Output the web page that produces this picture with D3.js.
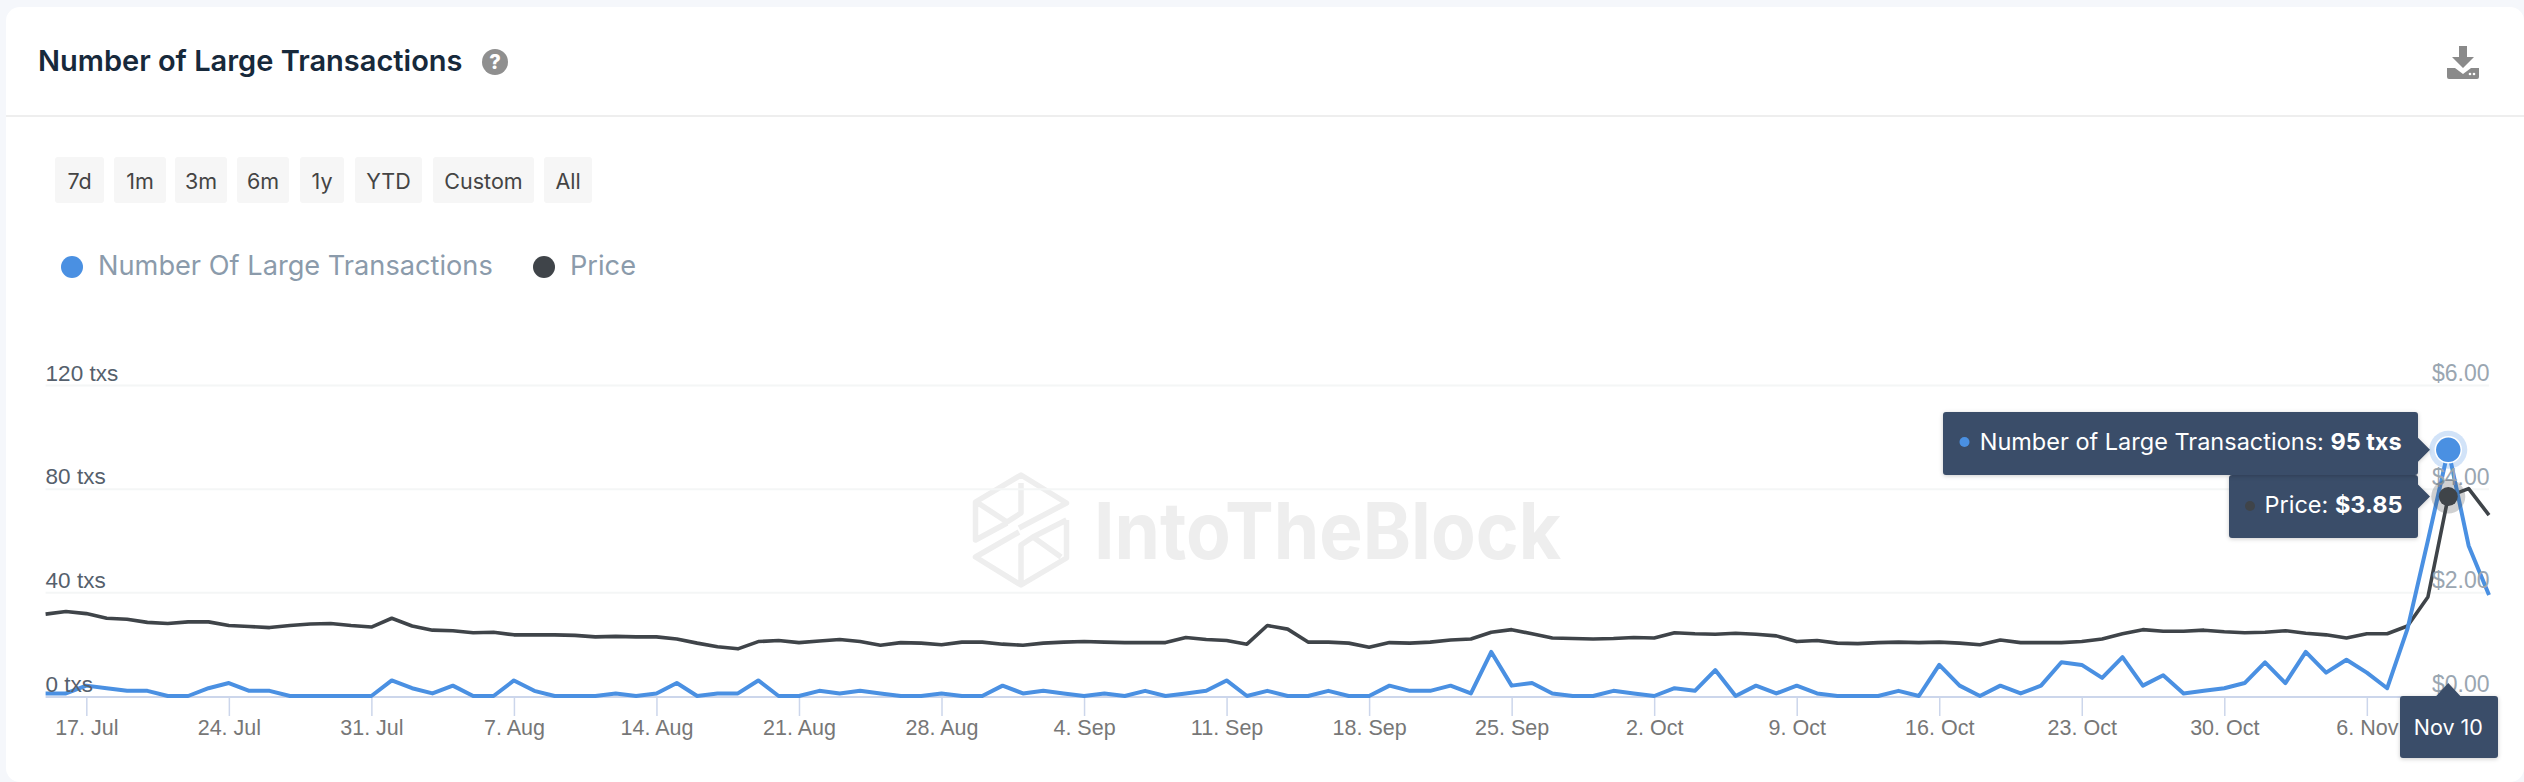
<!DOCTYPE html>
<html>
<head>
<meta charset="utf-8">
<script src="https://cdn.jsdelivr.net/npm/d3@7"></script>
<style>
  html, body { margin: 0; padding: 0; background: #f5f7fb; }
  svg { display: block; font-family: Inter, "Noto Sans", sans-serif; }
  .axis .domain { display: none; }
  .axis line { stroke: #f4f6f6; stroke-width: 2; }
  .x-axis .tick line { stroke: #ccd6eb; stroke-width: 1.5; }
  .x-axis text { fill: #777; font-size: 21.5px; }
  .tx-axis text { fill: #55606c; font-size: 22.5px; }
  .price-axis text { fill: #9aa6b1; font-size: 23px; }
</style>
</head>
<body>
<svg id="chart" width="2524" height="782"></svg>
<script>
'use strict';

const startDate = new Date(Date.UTC(2023, 6, 15));

const txCounts = [
  1, 1, 4, 3, 2, 2, 0, 0, 3, 5, 2, 2, 0, 0, 0, 0, 0, 6, 3, 1,
  4, 0, 0, 6, 2, 0, 0, 0, 1, 0, 1, 5, 0, 1, 1, 6, 0, 0, 2, 1,
  2, 1, 0, 0, 1, 0, 0, 4, 1, 2, 1, 0, 1, 0, 2, 0, 1, 2, 6, 0,
  2, 0, 0, 2, 0, 0, 4, 2, 2, 4, 1, 17, 4, 5, 1, 0, 0, 2, 1, 0,
  3, 2, 10, 0, 4, 1, 4, 1, 0, 0, 0, 2, 0, 12, 4, 0, 4, 1, 4, 13,
  12, 7, 15, 4, 8, 1, 2, 3, 5, 13, 5, 17, 9, 14, 9, 3, 26, 60, 95, 58,
  39
];

const prices = [
  1.58, 1.63, 1.59, 1.50, 1.48, 1.42, 1.40, 1.43, 1.43, 1.36, 1.34, 1.32, 1.36, 1.39, 1.40, 1.36, 1.33, 1.50, 1.35, 1.27,
  1.26, 1.22, 1.23, 1.18, 1.18, 1.18, 1.17, 1.14, 1.15, 1.14, 1.14, 1.10, 1.02, 0.95, 0.91, 1.05, 1.07, 1.03, 1.06, 1.09,
  1.05, 0.98, 1.03, 1.02, 0.99, 1.04, 1.04, 1.00, 0.98, 1.02, 1.04, 1.05, 1.04, 1.03, 1.03, 1.03, 1.13, 1.09, 1.07, 1.00,
  1.36, 1.29, 1.04, 1.04, 1.02, 0.94, 1.03, 1.02, 1.04, 1.08, 1.10, 1.23, 1.28, 1.20, 1.12, 1.11, 1.10, 1.11, 1.13, 1.12,
  1.22, 1.20, 1.19, 1.21, 1.19, 1.16, 1.05, 1.07, 1.02, 1.01, 1.03, 1.04, 1.03, 1.04, 1.02, 0.99, 1.08, 1.03, 1.03, 1.03,
  1.05, 1.10, 1.20, 1.28, 1.25, 1.25, 1.27, 1.24, 1.22, 1.23, 1.26, 1.21, 1.18, 1.12, 1.20, 1.20, 1.35, 1.91, 3.85, 4.00,
  3.49
];

const rangeButtons = ['7d', '1m', '3m', '6m', '1y', 'YTD', 'Custom', 'All'];
const buttonEdges = [[55, 104], [114, 166], [175, 227], [237, 289], [300, 344], [355, 422], [433, 534], [544, 592]];
const txTicks = [0, 40, 80, 120];
const priceTicks = [0, 2, 4, 6];
const hoverIndex = 118;

const svg = d3.select('#chart');
const dates = txCounts.map((d, i) => d3.utcDay.offset(startDate, i));

const x = d3.scaleUtc().domain([dates[0], dates[dates.length - 1]]).range([45.6, 2489]);
const yTx = d3.scaleLinear().domain([0, 120]).range([696, 385]);
const yPrice = d3.scaleLinear().domain([0, 6]).range([696, 385]);

// card + header
svg.append('rect').attr('x', 6).attr('y', 7).attr('width', 2518).attr('height', 775)
  .attr('rx', 14).attr('fill', '#fff');
svg.append('line').attr('x1', 6).attr('x2', 2524).attr('y1', 116).attr('y2', 116)
  .attr('stroke', '#eeeeee').attr('stroke-width', 2);
svg.append('text').attr('x', 38).attr('y', 71).attr('fill', '#17293b')
  .style('font-size', '29px').style('font-weight', 600).text('Number of Large Transactions');

let help = svg.append('g').attr('transform', 'translate(495,62)');
help.append('circle').attr('r', 13).attr('fill', '#8f8f8f');
help.append('text').attr('text-anchor', 'middle').attr('y', 7).attr('fill', '#fff')
  .style('font-size', '20px').style('font-weight', 800).text('?');

let dl = svg.append('g').attr('transform', 'translate(2463,62)').attr('fill', '#8a8a8a');
dl.append('path').attr('d', 'M-4,-16H4V-5H11L0,6L-11,-5H-4Z');
dl.append('path').attr('d', 'M-16,6V15Q-16,17 -14,17H14Q16,17 16,15V6H8L0,12L-8,6Z');
dl.append('circle').attr('cx', 7).attr('cy', 12).attr('r', 1.3).attr('fill', '#fff');
dl.append('circle').attr('cx', 11).attr('cy', 12).attr('r', 1.3).attr('fill', '#fff');

// range buttons
let buttons = svg.append('g').selectAll('g').data(rangeButtons).join('g');
buttons.append('rect')
  .attr('x', (d, i) => buttonEdges[i][0]).attr('y', 157)
  .attr('width', (d, i) => buttonEdges[i][1] - buttonEdges[i][0]).attr('height', 46)
  .attr('rx', 3).attr('fill', '#f6f6f6');
buttons.append('text')
  .attr('x', (d, i) => (buttonEdges[i][0] + buttonEdges[i][1]) / 2).attr('y', 189)
  .attr('text-anchor', 'middle').attr('fill', '#444')
  .style('font-size', '21.5px').text(d => d);

// legend
svg.append('circle').attr('cx', 72).attr('cy', 267).attr('r', 11).attr('fill', '#4a90e2');
svg.append('text').attr('x', 98).attr('y', 274.5).attr('fill', '#8b9bab')
  .style('font-size', '27.2px').text('Number Of Large Transactions');
svg.append('circle').attr('cx', 544).attr('cy', 267).attr('r', 11).attr('fill', '#3f4449');
svg.append('text').attr('x', 570).attr('y', 274.5).attr('fill', '#8b9bab')
  .style('font-size', '27.2px').text('Price');

// watermark
svg.append('g').attr('transform', 'translate(1021,530)')
  .attr('fill', 'none').attr('stroke', '#eeeeee').attr('stroke-width', 5.5).attr('stroke-linejoin', 'round')
  .append('path').attr('d', [
    'M-2,-2L45.5,-27L0,-55L-45.5,-28V10L-14,-7',
    'M45.5,-10V28L0,55L-45.5,27L-2,2',
    'M0,55V15L12,7L40,27',
    'M45.5,-10L12,7',
    'M0,-47V-17L-14,-8L-43,-27'
  ].join(''));
svg.append('text').attr('x', 1094).attr('y', 559).attr('fill', '#eeeeee')
  .attr('textLength', 467).attr('lengthAdjust', 'spacingAndGlyphs')
  .style('font-size', '79px').style('font-weight', 700).text('IntoTheBlock');

// grid + axes
svg.append('g').attr('class', 'axis grid')
  .attr('transform', 'translate(45.6,0)')
  .call(d3.axisRight(yTx).tickValues(txTicks.slice(1)).tickSize(2443.4).tickFormat(''));

svg.append('line').attr('x1', 45.6).attr('x2', 2489).attr('y1', 697).attr('y2', 697)
  .attr('stroke', '#ccd6eb').attr('stroke-width', 2);

let xAxis = svg.append('g').attr('class', 'axis x-axis')
  .attr('transform', 'translate(0,697)')
  .call(d3.axisBottom(x)
    .tickValues(d3.utcDay.range(d3.utcDay.offset(startDate, 2), d3.utcDay.offset(startDate, 115), 7))
    .tickSize(19).tickPadding(0)
    .tickFormat(d3.utcFormat('%-d. %b')));
xAxis.selectAll('text').attr('dy', '0').attr('y', 38);

// lines, the blue one stays on top
let line = (y, values) => d3.line().x((d, i) => x(dates[i])).y((d, i) => y(values[i]))(values);
svg.append('path').attr('d', line(yPrice, prices))
  .attr('fill', 'none').attr('stroke', '#3f4449').attr('stroke-width', 3.6).attr('stroke-linejoin', 'round');
svg.append('path').attr('d', line(yTx, txCounts))
  .attr('fill', 'none').attr('stroke', '#4a90e2').attr('stroke-width', 4).attr('stroke-linejoin', 'round');

// tick labels are painted above the lines
svg.append('g').attr('class', 'axis tx-axis')
  .attr('transform', 'translate(45.6,-12)')
  .call(d3.axisRight(yTx).tickValues(txTicks).tickSize(0).tickPadding(0).tickFormat(d => d + ' txs'));
svg.append('g').attr('class', 'axis price-axis')
  .attr('transform', 'translate(2489.6,-12)')
  .call(d3.axisLeft(yPrice).tickValues(priceTicks).tickSize(0).tickPadding(0).tickFormat(d3.format('$.2f')));

// hover markers
let hx = x(dates[hoverIndex]);
let blueY = yTx(txCounts[hoverIndex]);
let darkY = yPrice(prices[hoverIndex]);
svg.append('circle').attr('cx', hx).attr('cy', darkY).attr('r', 17).attr('fill', '#3f4449').attr('opacity', 0.25);
svg.append('circle').attr('cx', hx).attr('cy', darkY).attr('r', 9.5).attr('fill', '#3f4449');
svg.append('circle').attr('cx', hx).attr('cy', blueY).attr('r', 19).attr('fill', '#4a90e2').attr('opacity', 0.25);
svg.append('circle').attr('cx', hx).attr('cy', blueY).attr('r', 13).attr('fill', '#4a90e2').attr('stroke', '#fff').attr('stroke-width', 1.5);

// tooltips
const tipColor = '#3a4d69';
let tipPath = (x0, y0, y1, tipY) => `M${x0 + 3},${y0}H2415Q2418,${y0} 2418,${y0 + 3}V${tipY - 12}L2430,${tipY}L2418,${tipY + 12}V${y1 - 3}Q2418,${y1} 2415,${y1}H${x0 + 3}Q${x0},${y1} ${x0},${y1 - 3}V${y0 + 3}Q${x0},${y0} ${x0 + 3},${y0}Z`;
let tipShadow = 'drop-shadow(0 1px 2px rgba(0,0,0,0.2))';
svg.append('path').attr('d', tipPath(2229, 475, 538, darkY)).attr('fill', tipColor).style('filter', tipShadow);
svg.append('path').attr('d', tipPath(1943, 412, 475, blueY)).attr('fill', tipColor).style('filter', tipShadow);
svg.append('circle').attr('cx', 1964.5).attr('cy', 442).attr('r', 5).attr('fill', '#4a90e2');
let t1 = svg.append('text').attr('x', 1979.7).attr('y', 450).attr('fill', '#fff').style('font-size', '23.5px');
t1.append('tspan').text('Number of Large Transactions: ');
t1.append('tspan').style('font-weight', 700).text(txCounts[hoverIndex] + ' txs');
svg.append('circle').attr('cx', 2250).attr('cy', 506).attr('r', 5).attr('fill', '#3f4449');
let t2 = svg.append('text').attr('x', 2264.5).attr('y', 513).attr('fill', '#fff').style('font-size', '23.5px');
t2.append('tspan').text('Price: ');
t2.append('tspan').style('font-weight', 700).text('$' + prices[hoverIndex].toFixed(2));

svg.append('path').attr('d', `M2403,696H${hx - 12}L${hx},683L${hx + 12},696H2495Q2498,696 2498,699V755Q2498,758 2495,758H2403Q2400,758 2400,755V699Q2400,696 2403,696Z`)
  .attr('fill', tipColor).style('filter', tipShadow);
svg.append('text').attr('x', hx).attr('y', 735).attr('text-anchor', 'middle').attr('fill', '#fff')
  .style('font-size', '21.5px').text(d3.utcFormat('%b %-d')(dates[hoverIndex]));
</script>
</body>
</html>
